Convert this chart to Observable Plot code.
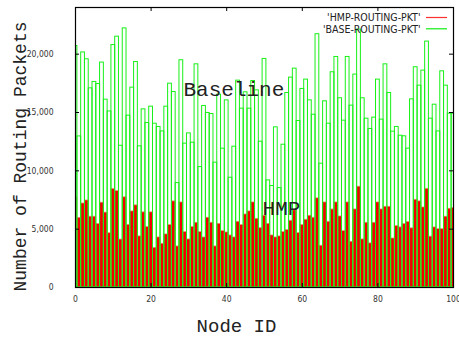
<!DOCTYPE html>
<html>
<head>
<meta charset="utf-8">
<script src="https://cdn.jsdelivr.net/npm/d3@7"></script>
<script src="https://cdn.jsdelivr.net/npm/@observablehq/plot@0.6"></script>
<style>
  html, body { margin: 0; padding: 0; background: #fff; }
  #chart { width: 459px; height: 337px; }
</style>
</head>
<body>
<div id="chart"></div>
<script>
// Node IDs 0..100
const nodeIds = d3.range(0, 101);

// 'BASE-ROUTING-PKT' (green, outlined boxes)
const baseRouting = [
  20700, 12950, 20150, 19560, 17070, 17620, 17440, 19280, 16100, 15090,
  20780, 21500, 12150, 22210, 14730, 17130, 19330, 12100, 15270, 14100,
  15500, 14040, 13760, 13380, 15500, 17470, 16760, 8950, 19480, 12330,
  13210, 12410, 19130, 10320, 15560, 14960, 14870, 10700, 16530, 11900,
  16040, 9410, 12070, 17730, 15330, 16730, 15330, 17700, 16900, 12500,
  19590, 9180, 8700, 13730, 8520, 12240, 16670, 17990, 18760, 14270,
  17020, 17820, 16040, 14810, 21710, 10610, 15960, 14040, 18450, 19760,
  16220, 14300, 19760, 15590, 18250, 22110, 16220, 14470, 13590, 14560,
  17820, 14390, 19130, 16670, 13360, 13760, 13010, 12960, 11900, 16130,
  18880, 17300, 18590, 21080, 14470, 15670, 13380, 18530, 17300, 14900,
  14900
];

// 'HMP-ROUTING-PKT' (red, filled boxes)
const hmpRouting = [
  7720, 5970, 7200, 7460, 6070, 6070, 5450, 7270, 6420, 4650,
  8440, 8260, 4110, 7730, 5360, 6520, 7040, 4380, 6440, 5180,
  6440, 3400, 4290, 3750, 4550, 5350, 7380, 3520, 7290, 4750,
  4120, 5180, 5550, 4750, 4290, 5980, 5550, 3520, 5460, 4830,
  4720, 4460, 4290, 5630, 5350, 6260, 6520, 7290, 5890, 5090,
  6150, 5460, 4460, 4290, 4380, 4750, 4920, 5720, 6610, 4660,
  5350, 5810, 6150, 5980, 7640, 3580, 7290, 5630, 6690, 7290,
  6090, 4830, 7290, 3920, 6690, 8640, 4120, 5550, 3780, 5550,
  7290, 6690, 6920, 6920, 4200, 5260, 5150, 5440, 5610, 5070,
  7520, 7380, 6860, 8460, 4360, 5150, 5000, 5000, 6070, 6750,
  6800
];

const xTicks = [0, 20, 40, 60, 80, 100];
const yTicks = [0, 5000, 10000, 15000, 20000];
const seriesNames = ["'HMP-ROUTING-PKT'", "'BASE-ROUTING-PKT'"];
const seriesColors = ["#ff3030", "#10ee10"];
const annotations = [
  {text: "Baseline", x: 41.9, y: 17030},
  {text: "HMP", x: 54.5, y: 6760}
];

const rows = nodeIds.map((id, i) => ({id, hmp: hmpRouting[i], base: baseRouting[i]}));

const W = 459, H = 337;
const mL = 75, mR = 6, mT = 7, mB = 50;
const frameW = W - mL - mR, frameH = H - mT - mB;
const monoFont = "'Liberation Mono', 'Courier New', monospace";
const narrowFont = "'Liberation Sans Narrow', 'DejaVu Sans Condensed', 'Liberation Sans', sans-serif";

const plot = Plot.plot({
  width: W,
  height: H,
  marginLeft: mL,
  marginRight: mR,
  marginTop: mT,
  marginBottom: mB,
  style: {fontFamily: narrowFont, fontSize: "8.5px", color: "#222", background: "#fff", overflow: "visible"},
  x: {domain: [0, 100], ticks: xTicks},
  y: {domain: [0, 24000], ticks: yTicks},
  marks: [
    // HMP filled red boxes (drawn first)
    Plot.rect(rows, {
      x1: d => d.id - 0.5, x2: d => d.id + 0.5, y1: 0, y2: "hmp",
      fill: "#f20000", stroke: "#ff8080", strokeWidth: 0.7, clip: true
    }),
    // BASE outlined green boxes (on top)
    Plot.rect(rows, {
      x1: d => d.id - 0.5, x2: d => d.id + 0.5, y1: 0, y2: "base",
      fill: "none", stroke: "#18f018", strokeWidth: 1, clip: true
    }),
    // axis labels
    Plot.axisY(yTicks, {anchor: "left", tickSize: 0, tickPadding: 22, fontSize: 8.5, label: null, fill: "#333"}),
    Plot.axisX(xTicks, {anchor: "bottom", tickSize: 0, tickPadding: 8, fontSize: 8.5, label: null, fill: "#333"}),
    // inward mirrored ticks
    Plot.ruleY(yTicks, {insetRight: frameW - 4, stroke: "black"}),
    Plot.ruleY(yTicks, {insetLeft: frameW - 4, stroke: "black"}),
    Plot.ruleX(xTicks, {insetTop: frameH - 4, stroke: "black"}),
    Plot.ruleX(xTicks, {insetBottom: frameH - 4, stroke: "black"}),
    Plot.frame({stroke: "black", strokeWidth: 1.2}),
    // annotations
    Plot.text(annotations, {x: "x", y: "y", text: "text", fontFamily: monoFont, fontSize: 21, fill: "#222", fontWeight: 300}),
    // axis titles
    Plot.text(["Node ID"], {frameAnchor: "bottom", dx: -28, dy: 38, text: d => d, fontFamily: monoFont, fontSize: 19, fill: "#222", lineAnchor: "middle"}),
    Plot.text(["Number of Routing Packets"], {frameAnchor: "left", textAnchor: "middle", lineAnchor: "middle", dx: -55, dy: 9, rotate: -90, text: d => d, fontFamily: monoFont, fontSize: 18, fill: "#222"}),
    // legend entries
    Plot.text([seriesNames[0]], {frameAnchor: "top-right", dx: -33, dy: 10.5, text: d => d, fontFamily: narrowFont, fontSize: 10.5, fill: "#222", textAnchor: "end", lineAnchor: "middle"}),
    Plot.text([seriesNames[1]], {frameAnchor: "top-right", dx: -33, dy: 21.8, text: d => d, fontFamily: narrowFont, fontSize: 10.5, fill: "#222", textAnchor: "end", lineAnchor: "middle"})
  ]
});

document.getElementById("chart").appendChild(plot);

// legend sample lines
const svg = d3.select(plot);
const lx2 = W - mR - 6, lx1 = lx2 - 21;
seriesColors.forEach((c, i) => {
  const y = mT + 10.5 + i * 11.3;
  svg.append("line").attr("x1", lx1).attr("x2", lx2).attr("y1", y).attr("y2", y)
    .attr("stroke", c).attr("stroke-width", 1.2);
});
</script>
</body>
</html>
